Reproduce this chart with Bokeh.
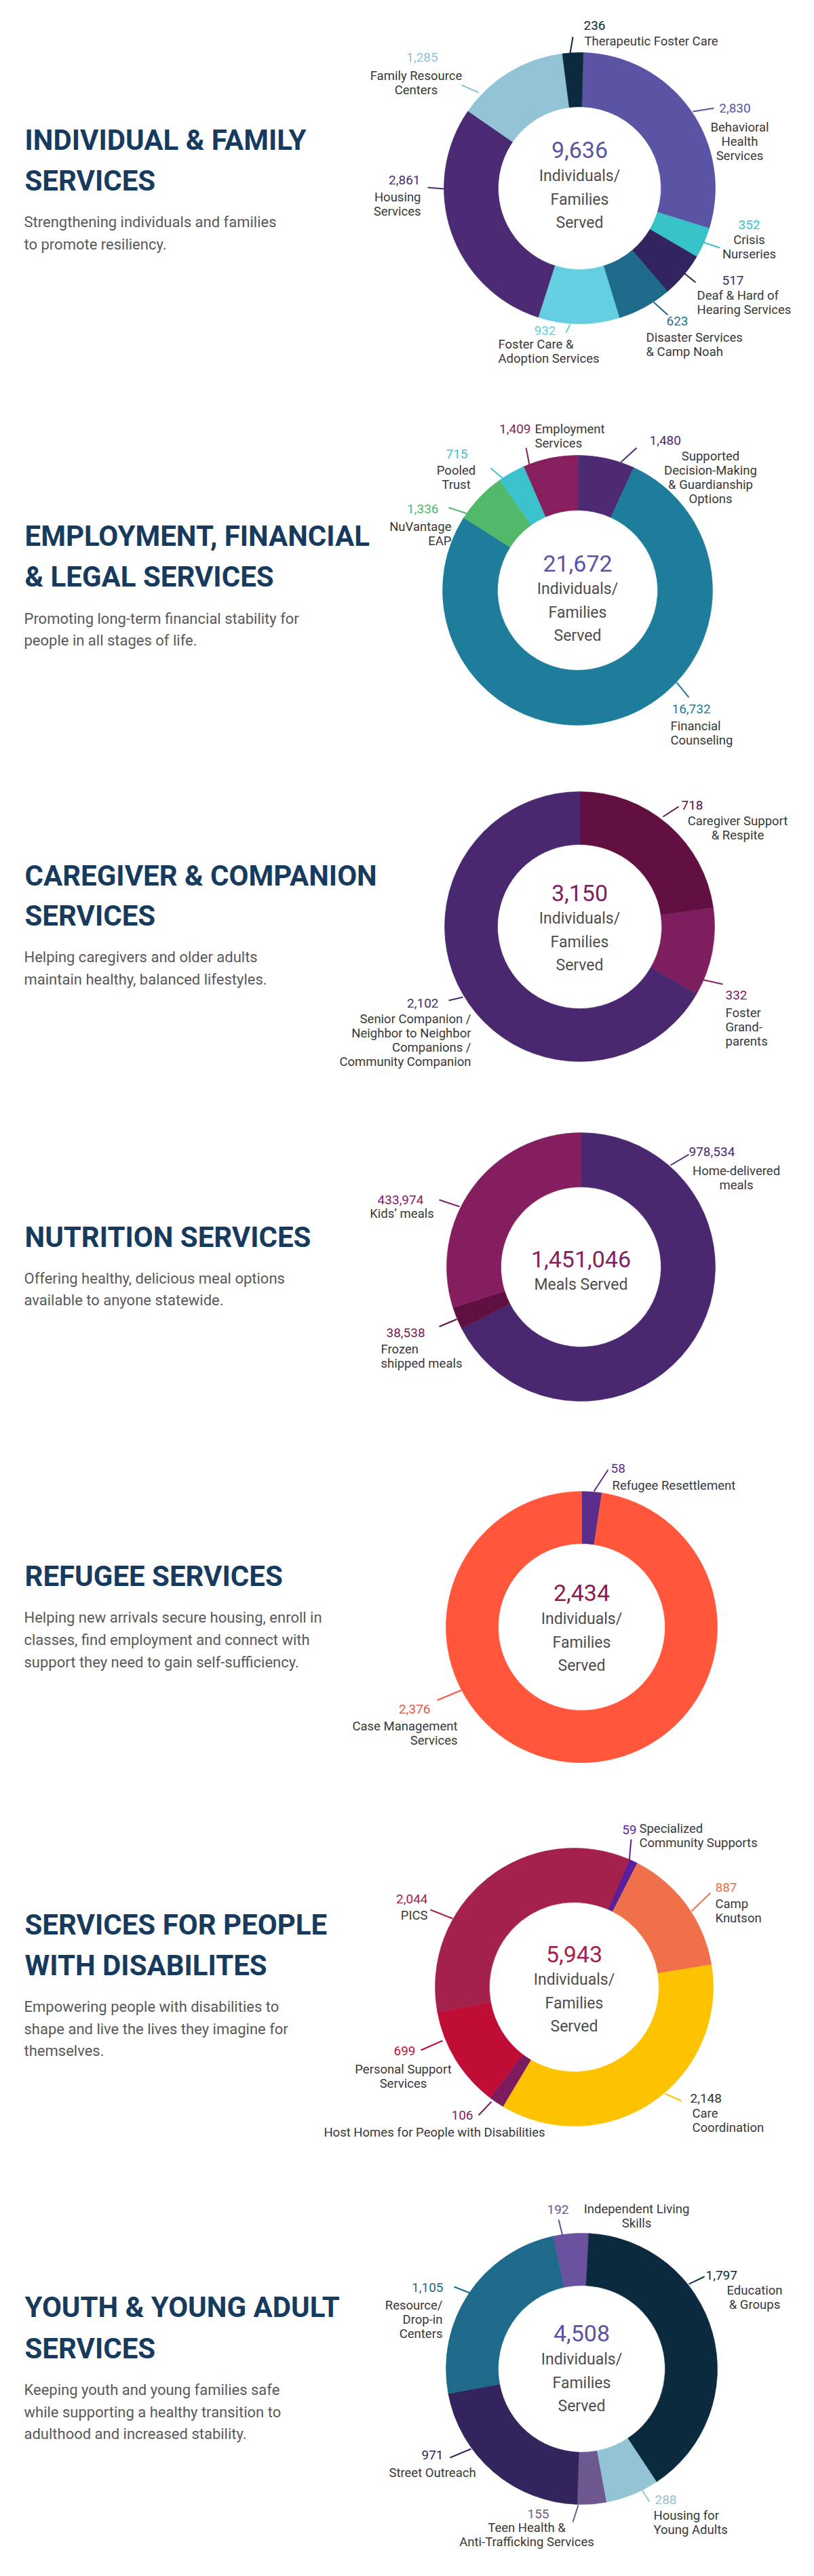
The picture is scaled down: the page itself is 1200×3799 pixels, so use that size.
import numpy as np
from bokeh.plotting import figure
from bokeh.models import Range1d
from bokeh.embed import file_html
from bokeh.resources import INLINE
from bokeh.core.properties import value

# ---------------- DATA ----------------
S1_TITLE = ["INDIVIDUAL & FAMILY", "SERVICES"]
S1_DESC = ["Strengthening individuals and families", "to promote resiliency."]
S1_TOTAL = "9,636"
S1_CENTER = ["Individuals/", "Families", "Served"]
S1_NAMES = ["Behavioral\nHealth\nServices", "Crisis\nNurseries", "Deaf & Hard of\nHearing Services",
            "Disaster Services\n& Camp Noah", "Foster Care &\nAdoption Services", "Housing\nServices",
            "Family Resource\nCenters", "Therapeutic Foster Care"]
S1_VALUES = [2830, 352, 517, 623, 932, 2861, 1285, 236]
S1_COLORS = ["#5b54a4", "#38c3c8", "#32245e", "#1e6a8a", "#63cfe0", "#4c2a73", "#93c4d6", "#0b2a3e"]
S1_NUMCOL = ["#5b54a4", "#38c3c8", "#3a2f6e", "#2a7090", "#63cfe0", "#4c2a73", "#93c4d6", "#0b2a3e"]

S2_TITLE = ["EMPLOYMENT, FINANCIAL", "& LEGAL SERVICES"]
S2_DESC = ["Promoting long-term financial stability for", "people in all stages of life."]
S2_TOTAL = "21,672"
S2_CENTER = ["Individuals/", "Families", "Served"]
S2_NAMES = ["Supported\nDecision-Making\n& Guardianship\nOptions", "Financial\nCounseling",
            "NuVantage\nEAP", "Pooled\nTrust", "Employment\nServices"]
S2_VALUES = [1480, 16732, 1336, 715, 1409]
S2_COLORS = ["#4e2a73", "#1d7d9a", "#52b96a", "#3cc2cc", "#861f5c"]
S2_NUMCOL = ["#4e2a73", "#1d7d9a", "#52b96a", "#3cc2cc", "#861f5c"]

S3_TITLE = ["CAREGIVER & COMPANION", "SERVICES"]
S3_DESC = ["Helping caregivers and older adults", "maintain healthy, balanced lifestyles."]
S3_TOTAL = "3,150"
S3_CENTER = ["Individuals/", "Families", "Served"]
S3_NAMES = ["Caregiver Support\n& Respite", "Foster\nGrand-\nparents",
            "Senior Companion /\nNeighbor to Neighbor\nCompanions /\nCommunity Companion"]
S3_VALUES = [718, 332, 2102]
S3_COLORS = ["#611041", "#7f1e5e", "#4a2870"]
S3_NUMCOL = ["#611041", "#7f1e5e", "#4a2870"]

S4_TITLE = ["NUTRITION SERVICES"]
S4_DESC = ["Offering healthy, delicious meal options", "available to anyone statewide."]
S4_TOTAL = "1,451,046"
S4_CENTER = ["Meals Served"]
S4_NAMES = ["Home-delivered\nmeals", "Frozen\nshipped meals", "Kids\u2019 meals"]
S4_VALUES = [978534, 38538, 433974]
S4_COLORS = ["#4a2870", "#5f1040", "#841e5e"]
S4_NUMCOL = ["#4a2870", "#7a1d55", "#841e5e"]

S5_TITLE = ["REFUGEE SERVICES"]
S5_DESC = ["Helping new arrivals secure housing, enroll in", "classes, find employment and connect with",
           "support they need to gain self-sufficiency."]
S5_TOTAL = "2,434"
S5_CENTER = ["Individuals/", "Families", "Served"]
S5_NAMES = ["Refugee Resettlement", "Case Management\nServices"]
S5_VALUES = [58, 2376]
S5_COLORS = ["#5a2d8c", "#ff563c"]
S5_NUMCOL = ["#5a2d8c", "#e05a45"]

S6_TITLE = ["SERVICES FOR PEOPLE", "WITH DISABILITES"]
S6_DESC = ["Empowering people with disabilities to", "shape and live the lives they imagine for", "themselves."]
S6_TOTAL = "5,943"
S6_CENTER = ["Individuals/", "Families", "Served"]
S6_NAMES = ["Specialized\nCommunity Supports", "Camp\nKnutson", "Care\nCoordination",
            "Host Homes for People with Disabilities", "Personal Support\nServices", "PICS"]
S6_VALUES = [59, 887, 2148, 106, 699, 2044]
S6_COLORS = ["#5a1f99", "#f0704a", "#fdc200", "#7c1b5e", "#c00d35", "#a3214a"]
S6_NUMCOL = ["#5a1f99", "#f0704a", "#333333", "#7c1b5e", "#c00d35", "#a3214a"]

S7_TITLE = ["YOUTH & YOUNG ADULT", "SERVICES"]
S7_DESC = ["Keeping youth and young families safe", "while supporting a healthy transition to",
           "adulthood and increased stability."]
S7_TOTAL = "4,508"
S7_CENTER = ["Individuals/", "Families", "Served"]
S7_NAMES = ["Independent Living\nSkills", "Education\n& Groups", "Housing for\nYoung Adults",
            "Teen Health &\nAnti-Trafficking Services", "Street Outreach", "Resource/\nDrop-in\nCenters"]
S7_VALUES = [192, 1797, 288, 155, 971, 1105]
S7_COLORS = ["#6b52a0", "#0b2a3e", "#92c4d6", "#6e5890", "#33245e", "#1d6a8a"]
S7_NUMCOL = ["#6b52a0", "#0b2a3e", "#92c4d6", "#6e5890", "#33245e", "#1d6a8a"]

CENTER_NUM_COLORS = ["#5b54a4", "#5b54a4", "#7f1e5e", "#841e5e", "#8b1a4a", "#a3214a", "#5b54a4"]

# ---------------- LAYOUT ----------------
# donut: cx, cy (page px), outer r, inner r, rotation (deg clockwise from top), center number y, center lines y
DONUTS = [
    (862, 285, 200, 120, 1.5, 228, 267),
    (859, 878, 199, 118, 0.0, 838, 876),
    (862, 1374, 199, 121, 0.0, 1324, 1362),
    (864, 1876, 198, 118, 0.0, 1864, 1902),
    (865, 2407, 200, 123, 0.0, 2356, 2395),
    (854, 2938, 205, 125, 23.4, 2889, 2927),
    (865, 3501, 200, 123, -12.3, 3448, 3487),
]
TITLE_Y = [(214, 274), (798, 858), (1299, 1358), (1832,), (2332,), (2846, 2906), (3410, 3471)]
DESC_Y = [(335, 368), (920, 952), (1419, 1452), (1893, 1925), (2393, 2426, 2459), (2967, 3000, 3032),
          (3532, 3565, 3597)]
# labels: num x, num y, num align, text x, text y, text align, leader x0, y0, x1, y1
LABELS = [
    [(1091, 167, "center", 1098, 195, "center", 1029, 172, 1060, 167),
     (1112, 339, "center", 1112, 361, "center", 1042, 364, 1069, 373),
     (1072, 421, "left", 1035, 443, "left", 1013, 408, 1033, 424),
     (990, 481, "left", 960, 505, "left", 971, 453, 992, 472),
     (795, 495, "left", 742, 515, "left", 848, 486, 842, 498),
     (627, 273, "right", 628, 298, "right", 638, 284, 662, 286),
     (630, 92, "center", 621, 119, "center", 688, 133, 713, 144),
     (868, 45, "left", 869, 68, "left", 852, 62, 848, 86)],
    [(965, 657, "left", 1055, 680, "center", 923, 689, 946, 668),
     (998, 1053, "left", 996, 1078, "left", 1005, 1014, 1023, 1036),
     (654, 758, "right", 673, 784, "right", 669, 756, 696, 765),
     (681, 677, "center", 680, 701, "center", 731, 698, 750, 714),
     (790, 640, "right", 796, 640, "left", 783, 668, 788, 693)],
    [(1012, 1195, "left", 1095, 1218, "center", 985, 1212, 1008, 1197),
     (1077, 1475, "left", 1077, 1501, "left", 1042, 1452, 1073, 1459),
     (654, 1487, "right", 702, 1510, "right", 669, 1483, 690, 1478)],
    [(1023, 1706, "left", 1093, 1734, "center", 996, 1726, 1023, 1710),
     (577, 1973, "left", 569, 1997, "left", 655, 1964, 681, 1953),
     (598, 1777, "center", 600, 1797, "center", 655, 1777, 685, 1787)],
    [(908, 2173, "left", 910, 2198, "left", 883, 2207, 904, 2175),
     (642, 2528, "right", 682, 2553, "right", 652, 2515, 688, 2500)],
    [(946, 2706, "right", 950, 2704, "left", 938, 2720, 935, 2753),
     (1062, 2791, "left", 1062, 2815, "left", 1027, 2826, 1055, 2799),
     (1025, 3102, "left", 1028, 3124, "left", 988, 3095, 1012, 3106),
     (705, 3127, "right", 648, 3152, "center", 713, 3127, 732, 3107),
     (604, 3032, "center", 602, 3059, "center", 628, 3031, 660, 3017),
     (638, 2808, "right", 638, 2832, "right", 642, 2824, 675, 2837)],
    [(846, 3266, "right", 946, 3265, "center", 831, 3281, 837, 3305),
     (1048, 3363, "left", 1120, 3385, "center", 1023, 3376, 1046, 3365),
     (973, 3694, "left", 971, 3717, "left", 954, 3680, 965, 3697),
     (801, 3715, "center", 784, 3735, "center", 852, 3727, 860, 3702),
     (645, 3628, "center", 645, 3654, "center", 671, 3632, 702, 3619),
     (661, 3381, "right", 660, 3407, "right", 677, 3380, 700, 3389)],
]

SECTIONS = [
    (S1_TITLE, S1_DESC, S1_TOTAL, S1_CENTER, S1_NAMES, S1_VALUES, S1_COLORS, S1_NUMCOL),
    (S2_TITLE, S2_DESC, S2_TOTAL, S2_CENTER, S2_NAMES, S2_VALUES, S2_COLORS, S2_NUMCOL),
    (S3_TITLE, S3_DESC, S3_TOTAL, S3_CENTER, S3_NAMES, S3_VALUES, S3_COLORS, S3_NUMCOL),
    (S4_TITLE, S4_DESC, S4_TOTAL, S4_CENTER, S4_NAMES, S4_VALUES, S4_COLORS, S4_NUMCOL),
    (S5_TITLE, S5_DESC, S5_TOTAL, S5_CENTER, S5_NAMES, S5_VALUES, S5_COLORS, S5_NUMCOL),
    (S6_TITLE, S6_DESC, S6_TOTAL, S6_CENTER, S6_NAMES, S6_VALUES, S6_COLORS, S6_NUMCOL),
    (S7_TITLE, S7_DESC, S7_TOTAL, S7_CENTER, S7_NAMES, S7_VALUES, S7_COLORS, S7_NUMCOL),
]

SANS = "Roboto"
HEAD_COLOR = "#163b5e"
DESC_COLOR = "#58595b"
LABEL_COLOR = "#383838"
CENTER_TXT_COLOR = "#4d4d4d"
LBL_LH = 21

W, H = 1184, 3783
p = figure(width=W, height=H, x_range=Range1d(8, 8 + W), y_range=Range1d(-(8 + H), -8),
           output_backend="svg", toolbar_location=None, x_axis_location=None, y_axis_location=None,
           min_border=0, outline_line_color=None, background_fill_color="white")
p.grid.visible = False


def txt(x, y, s, size, color, align="left", font=SANS, style="normal"):
    p.text(x=[x], y=[-y], text=[s], text_font=value(font), text_font_size=size,
           text_color=color, text_align=align, text_baseline="middle", text_font_style=style)


for k, (title, desc, total, center, names, vals, cols, numcols) in enumerate(SECTIONS):
    cx, cy, ro, ri, rot, ny, ly = DONUTS[k]
    v = np.array(vals, dtype=float)
    cum = np.concatenate([[0.0], np.cumsum(v / v.sum())]) * 2 * np.pi + np.deg2rad(rot)
    p.annular_wedge(x=cx, y=-cy, inner_radius=ri, outer_radius=ro,
                    start_angle=list(np.pi / 2 - cum[1:]), end_angle=list(np.pi / 2 - cum[:-1]),
                    fill_color=cols, line_color=cols, line_width=0.6)
    for t, yy in zip(title, TITLE_Y[k]):
        txt(44, yy, t, "42px", HEAD_COLOR, style="bold")
    for t, yy in zip(desc, DESC_Y[k]):
        txt(43, yy, t, "22px", DESC_COLOR)
    txt(cx, ny, total, "34px", CENTER_NUM_COLORS[k], align="center")
    for i, t in enumerate(center):
        txt(cx, ly + i * 34.5, t, "23px", CENTER_TXT_COLOR, align="center")
    for i, (name, val) in enumerate(zip(names, vals)):
        nx, nyy, na, tx, ty, ta, lx0, ly0, lx1, ly1 = LABELS[k][i]
        p.line(x=[lx0, lx1], y=[-ly0, -ly1], line_color=cols[i], line_width=2)
        txt(nx, nyy, f"{val:,}", "19px", numcols[i], align=na)
        for j, line in enumerate(name.split("\n")):
            txt(tx, ty + j * LBL_LH, line, "18.5px", LABEL_COLOR, align=ta)

open("out.html", "w").write(file_html(p, INLINE))
